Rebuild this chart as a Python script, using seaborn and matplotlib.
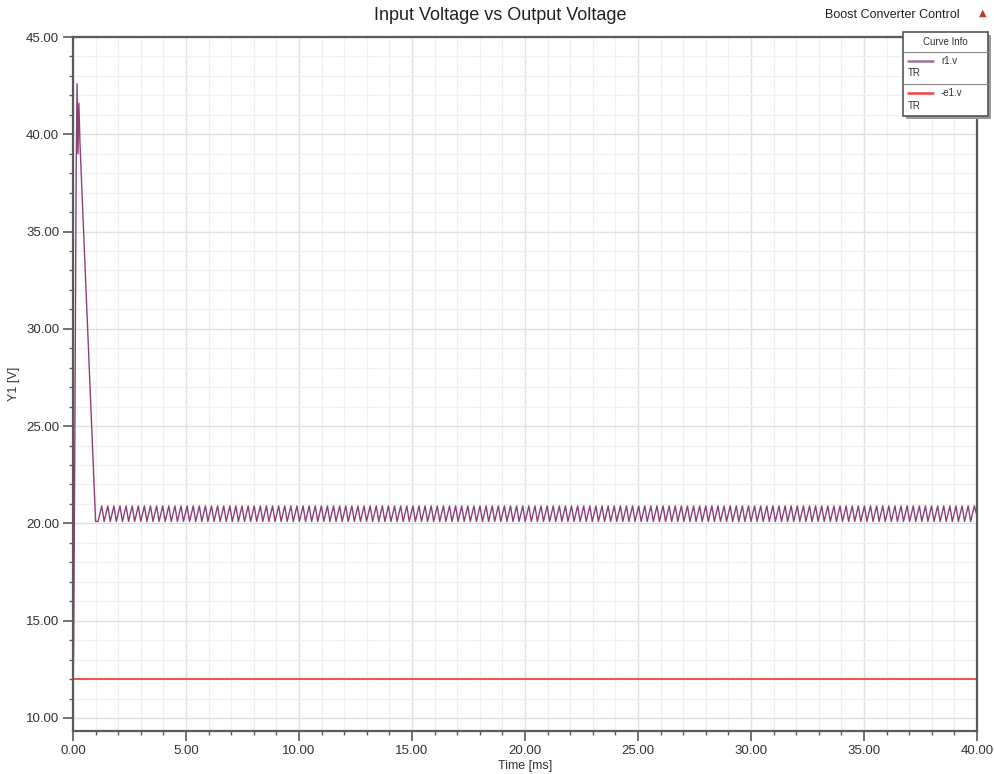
import numpy as np
import pandas as pd
import matplotlib
matplotlib.use("Agg")
import matplotlib.pyplot as plt
from matplotlib.lines import Line2D
from matplotlib.patches import Rectangle
from matplotlib.ticker import MultipleLocator, FormatStrFormatter
import seaborn as sns

# ---- data -------------------------------------------------------------
# output voltage start-up transient (time in ms, voltage in V)
startup_t = [0.00, 0.03, 0.08, 0.14, 0.18, 0.22, 0.26, 0.31, 1.00]
startup_v = [11.0, 14.0, 24.0, 38.0, 42.6, 39.0, 41.6, 39.5, 20.1]

# steady-state switching ripple on the output
ripple_start_ms = 1.00
ripple_end_ms = 40.00
ripple_period_ms = 0.27
ripple_low_v = 20.10
ripple_high_v = 20.90
ripple_on_fraction = 0.40   # share of each period the capacitor discharges

# input source voltage
input_t = [0.0, 40.0]
input_v = [12.0, 12.0]

# ---- build traces -----------------------------------------------------
n_cycles = int(round((ripple_end_ms - ripple_start_ms) / ripple_period_ms))
cycle_starts = ripple_start_ms + ripple_period_ms * np.arange(n_cycles)
rip_t = np.column_stack([cycle_starts + ripple_on_fraction * ripple_period_ms,
                         cycle_starts + ripple_period_ms]).ravel()
rip_v = np.tile([ripple_low_v, ripple_high_v], n_cycles)
rip_t = np.append(rip_t, ripple_end_ms)
rip_v = np.append(rip_v, ripple_low_v + 0.3)

out_t = np.concatenate([startup_t, rip_t])
out_v = np.concatenate([startup_v, rip_v])

df = pd.concat([
    pd.DataFrame({"t": out_t, "v": out_v, "trace": "r1.v"}),
    pd.DataFrame({"t": input_t, "v": input_v, "trace": "-e1.v"}),
], ignore_index=True)

purple = "#8a4079"
red = "#ff4040"

# ---- figure -----------------------------------------------------------
sns.set_theme(style="white")
plt.rcParams["font.family"] = ["Liberation Sans", "DejaVu Sans"]

W, H = 995, 774
fig = plt.figure(figsize=(W / 100, H / 100), dpi=100)
fig.patch.set_facecolor("white")
ax = fig.add_axes([73 / W, 1 - 731 / H, (977 - 73) / W, (731 - 37) / H])

sns.lineplot(data=df, x="t", y="v", hue="trace",
             estimator=None, sort=False, legend=False,
             palette={"r1.v": purple, "-e1.v": red},
             linewidth=1.0, ax=ax)
ax.lines[-1].set_linewidth(1.3)

ax.set_xlim(0, 40)
ax.set_ylim(9.33, 45)

ax.xaxis.set_major_locator(MultipleLocator(5))
ax.xaxis.set_minor_locator(MultipleLocator(1))
ax.yaxis.set_major_locator(MultipleLocator(5))
ax.yaxis.set_minor_locator(MultipleLocator(1))
ax.xaxis.set_major_formatter(FormatStrFormatter("%.2f"))
ax.yaxis.set_major_formatter(FormatStrFormatter("%.2f"))

ax.grid(which="minor", color="#f0f0f0", linewidth=0.9)
ax.grid(which="major", color="#e0e0e0", linewidth=1.0)
ax.set_axisbelow(True)

for side, sp in ax.spines.items():
    sp.set_visible(True)
    sp.set_color("#5a5a5a")
    sp.set_linewidth(1.6)

ax.tick_params(which="major", direction="out", length=7, width=1.2,
               color="#5a5a5a", labelsize=9.5, labelcolor="#333333",
               bottom=True, left=True, pad=3)
ax.tick_params(which="minor", direction="out", length=3, width=1.0,
               color="#5a5a5a", bottom=True, left=True)

ax.set_xlabel("Time [ms]", fontsize=9, color="#333333", labelpad=2)
ax.set_ylabel("Y1 [V]", fontsize=9, color="#333333", labelpad=4)

# titles
fig.text(500 / W, 1 - 16 / H, "Input Voltage vs Output Voltage",
         ha="center", va="center", fontsize=13, color="#222222")
fig.text(960 / W, 1 - 15 / H, "Boost Converter Control",
         ha="right", va="center", fontsize=9, color="#222222")
fig.text(983 / W, 1 - 13 / H, "\u25B2", ha="center", va="center",
         fontsize=7, color="#c0392b", family=["DejaVu Sans"])

# curve info box
def fx(px):
    return px / W


def fy(py):
    return 1 - py / H


bx0, bx1, by0, by1 = 903, 988, 32, 116
fig.add_artist(Rectangle((fx(bx0 + 3), fy(by1 + 3)), (bx1 - bx0) / W,
                         (by1 - by0) / H, transform=fig.transFigure,
                         facecolor="#9a9a9a", edgecolor="none", zorder=5))
fig.add_artist(Rectangle((fx(bx0), fy(by1)), (bx1 - bx0) / W,
                         (by1 - by0) / H, transform=fig.transFigure,
                         facecolor="white", edgecolor="#555555",
                         linewidth=1.2, zorder=6))
for ys in (52, 84):
    fig.add_artist(Line2D([fx(bx0), fx(bx1)], [fy(ys), fy(ys)],
                          transform=fig.transFigure, color="#888888",
                          linewidth=0.8, zorder=7))
fig.text(fx(945), fy(42), "Curve Info", ha="center", va="center",
         fontsize=7, color="#333333", zorder=8)
legend_rows = [("r1.v", "#a0739a", 61, 73), ("-e1.v", red, 93, 106)]
for label, col, yl, ytr in legend_rows:
    fig.add_artist(Line2D([fx(908), fx(933)], [fy(yl), fy(yl)],
                          transform=fig.transFigure, color=col,
                          linewidth=1.8, zorder=8))
    fig.text(fx(941), fy(yl), label, ha="left", va="center", fontsize=7,
             color="#333333", zorder=8)
    fig.text(fx(908), fy(ytr), "TR", ha="left", va="center", fontsize=7,
             color="#333333", zorder=8)

fig.savefig("out.png", dpi=100, facecolor="white")
